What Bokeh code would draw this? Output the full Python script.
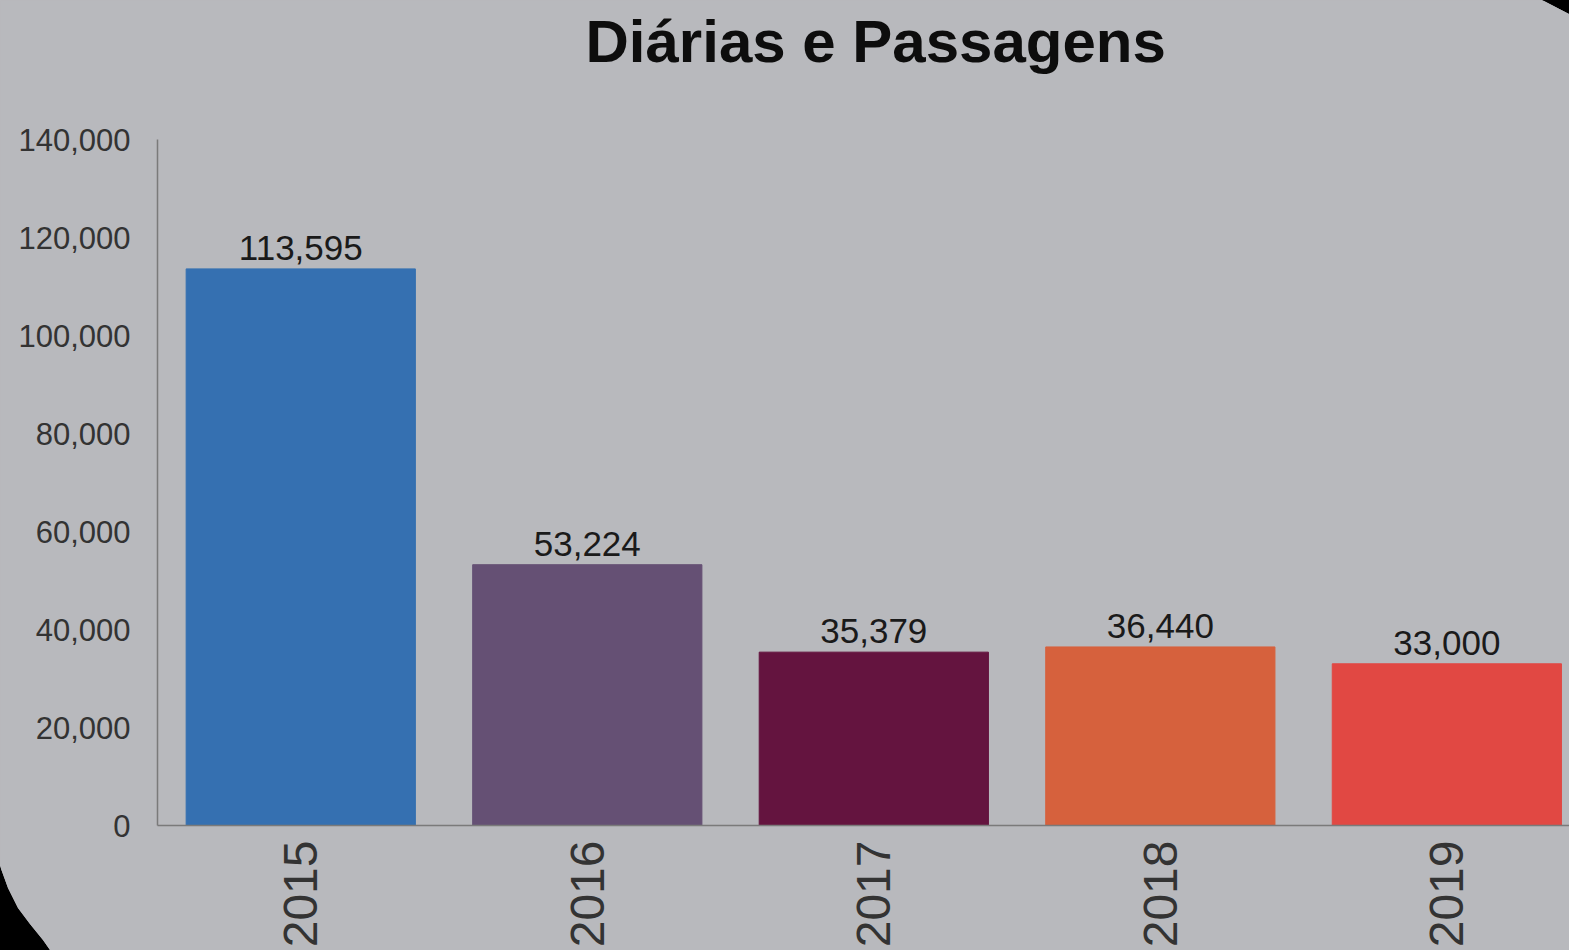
from bokeh.plotting import figure
from bokeh.models import Range1d, FixedTicker, NumeralTickFormatter, ColumnDataSource, LabelSet, Title
from bokeh.core.properties import value
from bokeh.layouts import column
from bokeh.embed import file_html
from bokeh.resources import INLINE

title = "Diárias e Passagens"
years = ["2015", "2016", "2017", "2018", "2019"]
values = [113595, 53224, 35379, 36440, 33000]
labels = ["113,595", "53,224", "35,379", "36,440", "33,000"]
colors = ["#3570b1", "#655074", "#64143f", "#d6613d", "#e14843"]
y_ticks = [0, 20000, 40000, 60000, 80000, 100000, 120000, 140000]

BG = "#b8b9bd"
FONT = "Liberation Sans"

src = ColumnDataSource(dict(x=list(range(len(years))), top=values, color=colors, label=labels))

p = figure(width=1569, height=950, output_backend="svg", toolbar_location=None,
           x_range=Range1d(-0.5, 4.428), y_range=Range1d(0, 140000),
           min_border_left=157, min_border_right=0, min_border_top=139, min_border_bottom=124)

p.background_fill_color = BG
p.border_fill_color = BG
p.outline_line_color = None
p.grid.visible = False

p.vbar(x="x", top="top", width=0.8, color="color", source=src)

p.add_layout(LabelSet(x="x", y="top", text="label", source=src, text_align="center",
                      text_baseline="alphabetic", y_offset=9, text_font_size="35px",
                      text_font=value(FONT), text_color="#1a1a1a"))

# spacer between the title and the plot frame
p.add_layout(Title(text=" ", text_font_size="1px", standoff=57), "above")

p.title.text = title
p.title.align = "left"
p.title.offset = 428
p.title.standoff = 10
p.title.text_font = FONT
p.title.text_font_size = "60px"
p.title.text_font_style = "bold"
p.title.text_color = "#0d0d0d"

ya = p.yaxis[0]
ya.ticker = FixedTicker(ticks=y_ticks)
ya.formatter = NumeralTickFormatter(format="0,0")
ya.major_tick_line_color = None
ya.minor_tick_line_color = None
ya.major_label_standoff = 21
ya.major_label_text_font = FONT
ya.major_label_text_font_size = "31px"
ya.major_label_text_color = "#333333"
ya.axis_line_color = "#7a7a7a"
ya.axis_line_width = 1.5

xa = p.xaxis[0]
xa.ticker = FixedTicker(ticks=list(range(len(years))))
xa.major_label_overrides = {i: y for i, y in enumerate(years)}
xa.major_label_orientation = 1.5707963
xa.major_tick_line_color = None
xa.minor_tick_line_color = None
xa.major_label_standoff = 9
xa.major_label_text_font = FONT
xa.major_label_text_font_size = "48px"
xa.major_label_text_color = "#333333"
xa.axis_line_color = "#7a7a7a"
xa.axis_line_width = 1.5

clip = ("polygon(-5px -5px, 1542px -5px, 1542px 0px, 1569px 14px, 1575px 14px, 1575px 955px, "
        "50px 955px, 50px 950px, 43px 940px, 30px 924px, 18px 908px, 8px 888px, 0px 866px, "
        "-5px 866px)")
p.styles = {"clip-path": clip, "background-color": BG}

layout = column(p, width=1569, height=950, styles={"background-color": "black"})

open("out.html", "w").write(file_html(layout, INLINE))
